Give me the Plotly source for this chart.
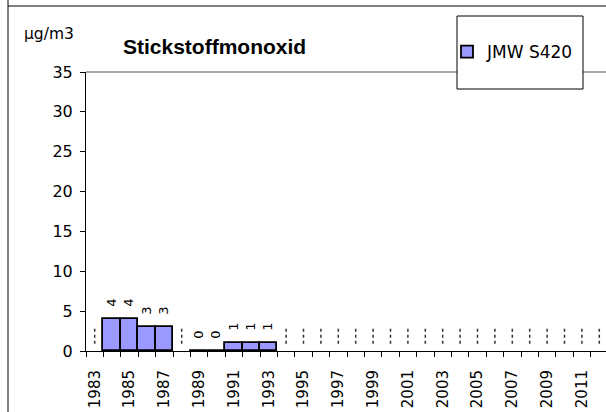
import plotly.graph_objects as go

# ---- data ----
years = list(range(1983, 2013))
no_values = [None, 4, 4, 3, 3, None, 0, 0, 1, 1, 1] + [None] * 19
series_name = "JMW S420"
title_text = "Stickstoffmonoxid"
unit_label = "µg/m3"
y_ticks = [0, 5, 10, 15, 20, 25, 30, 35]
label_years = list(range(1983, 2012, 2))

# ---- geometry / style ----
W, H = 606, 412
L, R, T, B = 86, 0, 72, 61
PW, PH = W - L - R, H - T - B
FONT = "DejaVu Sans"
TITLE_FONT = "Liberation Sans"
BAR_COLOR = "#9999FF"
MARK_LO, MARK_HI = 0.9, 2.8  # extent of the "no data" dashed marks


def px_x(p):
    return (p - L) / PW


def px_y(p):
    return (H - B - p) / PH


missing = [yr for yr, v in zip(years, no_values) if v is None]
dash_x, dash_y = [], []
for yr in missing:
    dash_x += [yr, yr, None]
    dash_y += [MARK_LO, MARK_HI, None]

bar_text = ["" if v is None else "\u00a0\u00a0" + str(v) for v in no_values]

fig = go.Figure()
fig.add_bar(
    x=years, y=no_values, width=1, name=series_name,
    marker=dict(color=BAR_COLOR, line=dict(color="black", width=1.8)),
    text=bar_text, textposition="outside", textangle=-90,
    textfont=dict(family=FONT, size=13, color="black"),
    cliponaxis=False,
)
fig.add_scatter(
    x=dash_x, y=dash_y, mode="lines", showlegend=False, hoverinfo="skip",
    line=dict(color="#333333", width=1.5, dash="3px,3px"),
)

boundaries = [yr - 0.5 for yr in years] + [years[-1] + 0.5]

fig.update_layout(
    width=W, height=H,
    margin=dict(l=L, r=R, t=T, b=B, pad=0),
    paper_bgcolor="white", plot_bgcolor="white",
    font=dict(family=FONT, size=16, color="black"),
    bargap=0,
    showlegend=True,
    legend=dict(
        x=px_x(447), xanchor="left", y=px_y(52), yanchor="middle",
        bgcolor="rgba(0,0,0,0)", borderwidth=0,
        font=dict(family=FONT, size=17, color="black"),
    ),
    xaxis=dict(
        range=[years[0] - 0.5, years[0] - 0.5 + PW / 17.4],
        tickmode="array", tickvals=label_years,
        ticktext=[str(y) for y in label_years],
        tickangle=-90, ticks="", ticklabelstandoff=12,
        tickfont=dict(family=FONT, size=15, color="black"),
        minor=dict(tickmode="array", tickvals=boundaries, ticks="outside",
                   ticklen=5, tickcolor="black", tickwidth=1),
        showline=True, linecolor="black", linewidth=1,
        showgrid=False, zeroline=False,
    ),
    yaxis=dict(
        range=[0, 35], tickmode="array", tickvals=y_ticks,
        ticks="outside", ticklen=5, tickcolor="black",
        ticklabelstandoff=4,
        tickfont=dict(family=FONT, size=16, color="black"),
        showline=True, linecolor="black", linewidth=1,
        showgrid=False, zeroline=False,
    ),
    shapes=[
        # outer frame pieces
        dict(type="line", xref="paper", yref="paper",
             x0=px_x(8), x1=px_x(8), y0=px_y(0), y1=px_y(H),
             line=dict(color="black", width=1)),
        dict(type="line", xref="paper", yref="paper",
             x0=px_x(8), x1=px_x(W), y0=px_y(6), y1=px_y(6),
             line=dict(color="black", width=1)),
        # top border of plot area
        dict(type="line", xref="paper", yref="paper",
             x0=0, x1=1, y0=1, y1=1,
             line=dict(color="#8c8c8c", width=1.5)),
        # legend box
        dict(type="rect", xref="paper", yref="paper",
             x0=px_x(457), x1=px_x(583), y0=px_y(16), y1=px_y(89),
             fillcolor="white", line=dict(color="black", width=1)),
    ],
    annotations=[
        dict(text=unit_label, xref="paper", yref="paper",
             x=px_x(22), y=px_y(34), xanchor="left", yanchor="middle",
             showarrow=False, font=dict(family=FONT, size=15.5, color="black")),
        dict(text="<b>" + title_text + "</b>", xref="paper", yref="paper",
             x=px_x(121), y=px_y(46), xanchor="left", yanchor="middle",
             showarrow=False, font=dict(family=TITLE_FONT, size=21, color="black")),
    ],
)

fig.write_html(
    "out.html",
    config={"displayModeBar": False},
    post_script="document.body.style.margin='0';document.body.style.overflow='hidden';",
)
